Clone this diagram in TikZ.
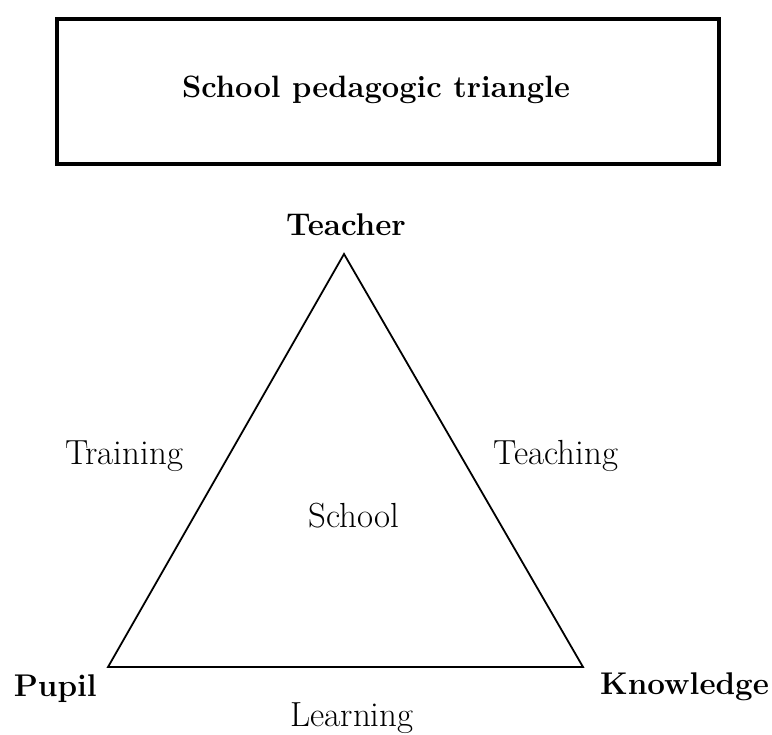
\documentclass[tikz,border=0pt]{standalone}
\usetikzlibrary{positioning}
\begin{document}
\begin{tikzpicture}[x=1bp,y=-1bp,
  lbl/.style={inner sep=0pt,font=\fontsize{35}{40}\selectfont},
  blbl/.style={inner sep=0pt,font=\fontsize{31.5}{36}\selectfont\bfseries},
  tlbl/.style={inner sep=0pt,font=\fontsize{31}{36}\selectfont\bfseries},
  edge/.style={line width=1.8bp,line join=miter}]
\useasboundingbox (0,0) rectangle (772,735);
\node[draw,line width=4bp,minimum width=662bp,minimum height=145bp,inner sep=0pt,anchor=north west] (title) at (55,17) {};
\node[tlbl,anchor=base] (titletext) at (376,98) {School pedagogic triangle};
\coordinate (T) at (344,254);
\coordinate (P) at (108,667);
\coordinate (K) at (583,667);
\draw[edge] (T) -- (P) -- (K) -- cycle;
\node[blbl,anchor=base] (teacher) at (346,235) {Teacher};
\node[blbl,anchor=base east] (pupil) at (97,696) {Pupil};
\node[blbl,anchor=base west] (knowledge) at (600,694) {Knowledge};
\node[lbl,anchor=base] (training) at (124,464) {Training};
\node[lbl,anchor=base] (teaching) at (556,464) {Teaching};
\node[lbl,anchor=base] (school) at (354,527) {School};
\node[lbl,anchor=base] (learning) at (352,726) {Learning};
\end{tikzpicture}
\end{document}
